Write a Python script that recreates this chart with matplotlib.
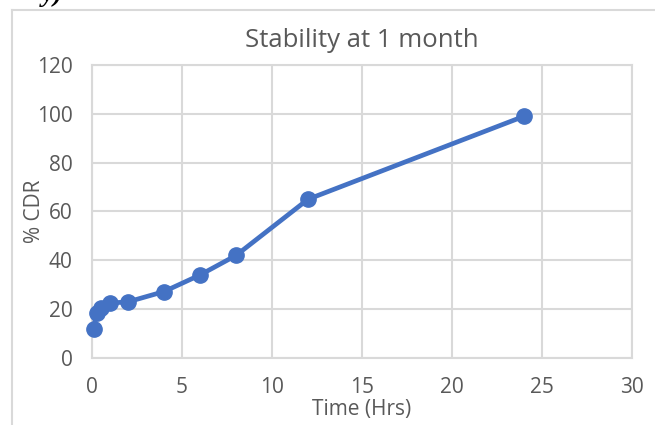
import matplotlib.pyplot as plt
from matplotlib.lines import Line2D

time_hrs = [0.1, 0.25, 0.5, 1, 2, 4, 6, 8, 12, 24]
cdr_pct = [12, 18.5, 20.5, 22.5, 23, 27.2, 34, 42, 65, 99]
x_ticks = [0, 5, 10, 15, 20, 25, 30]
y_ticks = [0, 20, 40, 60, 80, 100, 120]

plt.rcParams['font.family'] = ['Open Sans', 'DejaVu Sans']
grey_txt = '#595959'
grid_col = '#d9d9d9'
blue = '#4472c4'

fig = plt.figure(figsize=(6.55, 4.25), dpi=100)
ax = fig.add_axes([92 / 655, 67 / 425, 540 / 655, 293 / 425])

ax.plot(time_hrs, cdr_pct, color=blue, lw=3.4, marker='o', markersize=11,
        solid_capstyle='round', zorder=3, clip_on=False)

ax.set_xlim(0, 30)
ax.set_ylim(0, 120)
ax.set_xticks(x_ticks)
ax.set_yticks(y_ticks)
ax.grid(True, color=grid_col, lw=1.5)
ax.set_axisbelow(True)
for s in ax.spines.values():
    s.set_color(grid_col)
    s.set_linewidth(1.5)
ax.tick_params(length=0, labelsize=15, labelcolor=grey_txt)
ax.tick_params(axis='y', pad=14)
ax.tick_params(axis='x', pad=14)

ax.set_title('Stability at 1 month', fontsize=18.5, color=grey_txt, pad=13)
ax.set_xlabel('Time (Hrs)', fontsize=15, color=grey_txt)
ax.set_ylabel('% CDR', fontsize=15, color=grey_txt)
ax.xaxis.set_label_coords(0.5, (16 - 67) / 293)
ax.xaxis.label.set_va('center')
ax.yaxis.set_label_coords((34 - 92) / 540, 0.5)
ax.yaxis.label.set_va('center')

# chart frame (cut off at right and bottom)
fig.add_artist(Line2D([12 / 655, 12 / 655], [0, 1 - 10 / 425], color=grid_col, lw=1.5))
fig.add_artist(Line2D([12 / 655, 1], [1 - 10 / 425, 1 - 10 / 425], color=grid_col, lw=1.5))

# leftover text from the page above the chart
fig.text(42 / 655, 1 - 1 / 425, 'y)', family='Liberation Serif', fontsize=20,
         fontweight='bold', fontstyle='italic', va='baseline', ha='left')

fig.savefig('out.png', dpi=100)
